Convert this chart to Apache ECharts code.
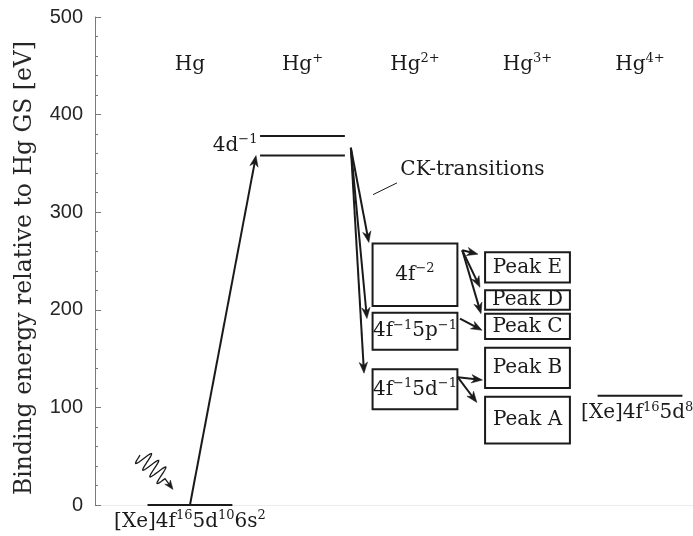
<!DOCTYPE html>
<html>
<head>
<meta charset="utf-8">
<script src="https://cdn.jsdelivr.net/npm/echarts@6/dist/echarts.min.js"></script>
<style>
  html, body { margin: 0; padding: 0; background: #fff; }
  #chart { width: 693px; height: 536px; }
</style>
</head>
<body>
<div id="chart"></div>
<script>
// Charge states along the horizontal axis (column index 0..4); ^{...} marks a superscript
const ionStages = ['Hg', 'Hg^{+}', 'Hg^{2+}', 'Hg^{3+}', 'Hg^{4+}'];
const stageLabelEnergy = 451;

// Energy axis ticks [eV]
const energyTicks = [0, 100, 200, 300, 400, 500];

// Single levels: [column, energy]
const levels = [
  [0, 0],
  [1, 378],
  [1, 358],
  [4, 112]
];

// Level captions: [column, energy, text, alignment]
const levelCaptions = [
  [0, -17, '[Xe]4f^{16}5d^{10}6s^{2}', 'center'],
  [0.6, 368, '4d^{-1}', 'right'],
  [3.975, 94, '[Xe]4f^{16}5d^{8}', 'center']
];

// Hg2+ two-hole states: [column, lower energy, upper energy, label]
const doubleHoleStates = [
  [2, 204, 268, '4f^{-2}'],
  [2, 159, 197, '4f^{-1}5p^{-1}'],
  [2, 98, 139, '4f^{-1}5d^{-1}']
];

// Hg3+ final-state peaks: [column, lower energy, upper energy, label]
const finalPeaks = [
  [3, 228, 259, 'Peak E'],
  [3, 200, 220, 'Peak D'],
  [3, 170, 196, 'Peak C'],
  [3, 120, 161, 'Peak B'],
  [3, 63, 111, 'Peak A']
];

// Transitions: [from column, from energy, to column, to energy]
const photoionisation = [
  [0, 0, 0.587, 358]
];
const ckTransitions = [
  [1.43, 366, 1.59, 269],
  [1.43, 366, 1.573, 191],
  [1.43, 366, 1.547, 135]
];
const augerDecays = [
  [2.42, 261, 2.56, 257],
  [2.42, 261, 2.578, 223],
  [2.42, 261, 2.587, 196],
  [2.40, 191, 2.596, 179],
  [2.38, 131, 2.60, 128],
  [2.38, 131, 2.55, 105]
];

// Callout for the CK arrows: [text column, text energy, line from col, energy, line to col, energy]
const ckCallout = [[1.87, 343, 1.627, 318, 1.84, 330]];
const ckCalloutText = 'CK-transitions';

// Incoming photon: [start col, energy, wave end col, energy, tip col, energy]
const photon = [[-0.444, 51, -0.222, 27, -0.151, 16]];

const HALF_WIDTH = 0.377;
const INK = '#1a1a1a';
const SERIF = '"DejaVu Serif", "Liberation Serif", serif';
const TEXT_SIZE = 20;
const SUP_SIZE = 13;

// ---- text with superscripts, laid out as separate runs ----
const measureCtx = document.createElement('canvas').getContext('2d');
function runWidth(t, size) {
  measureCtx.font = size + 'px ' + SERIF;
  return measureCtx.measureText(t).width;
}
function parseScript(str) {
  const out = [];
  const re = /\^\{([^}]*)\}/g;
  let last = 0, m;
  while ((m = re.exec(str))) {
    if (m.index > last) out.push({ t: str.slice(last, m.index), sup: false });
    out.push({ t: m[1].replace(/-/g, '\u2212'), sup: true });
    last = re.lastIndex;
  }
  if (last < str.length) out.push({ t: str.slice(last), sup: false });
  return out;
}
function scriptText(str, x, y, align) {
  const segs = parseScript(str).map(s => {
    const size = s.sup ? SUP_SIZE : TEXT_SIZE;
    return Object.assign(s, { size: size, w: runWidth(s.t, size) });
  });
  const total = segs.reduce((a, s) => a + s.w, 0);
  let cx = align === 'center' ? x - total / 2 : align === 'right' ? x - total : x;
  const children = [];
  segs.forEach(s => {
    children.push({
      type: 'text',
      style: {
        text: s.t, x: cx, y: s.sup ? y - 6 : y,
        align: 'left', verticalAlign: 'middle',
        fontFamily: SERIF, fontSize: s.size, fill: INK
      }
    });
    cx += s.w;
  });
  return { type: 'group', children: children };
}

function arrowHead(tip, ux, uy, len, wid) {
  const nx = -uy, ny = ux;
  const bx = tip[0] - ux * len, by = tip[1] - uy * len;
  const notch = [tip[0] - ux * len * 0.7, tip[1] - uy * len * 0.7];
  return {
    type: 'polygon',
    shape: { points: [tip, [bx + nx * wid, by + ny * wid], notch, [bx - nx * wid, by - ny * wid]] },
    style: { fill: INK, stroke: INK, lineWidth: 0.5 }
  };
}

function renderArrow(params, api) {
  const a = api.coord([api.value(0), api.value(1)]);
  const b = api.coord([api.value(2), api.value(3)]);
  const dx = b[0] - a[0], dy = b[1] - a[1];
  const len = Math.hypot(dx, dy);
  const ux = dx / len, uy = dy / len;
  const headLen = 11;
  return {
    type: 'group',
    children: [
      {
        type: 'line',
        shape: { x1: a[0], y1: a[1], x2: b[0] - ux * headLen * 0.6, y2: b[1] - uy * headLen * 0.6 },
        style: { stroke: INK, lineWidth: 2 }
      },
      arrowHead(b, ux, uy, headLen, 4.2)
    ]
  };
}

function renderLevel(params, api) {
  const c = api.value(0), e = api.value(1);
  const p0 = api.coord([c - HALF_WIDTH, e]);
  const p1 = api.coord([c + HALF_WIDTH, e]);
  return {
    type: 'line',
    shape: { x1: p0[0], y1: p0[1], x2: p1[0], y2: p1[1] },
    style: { stroke: INK, lineWidth: 2 }
  };
}

function makeBoxRenderer(rows) {
  return function (params, api) {
    const c = api.value(0), lo = api.value(1), hi = api.value(2);
    const p0 = api.coord([c - HALF_WIDTH, hi]);
    const p1 = api.coord([c + HALF_WIDTH, lo]);
    return {
      type: 'group',
      children: [
        {
          type: 'rect',
          shape: { x: p0[0], y: p0[1], width: p1[0] - p0[0], height: p1[1] - p0[1] },
          style: { fill: '#fff', stroke: INK, lineWidth: 2 }
        },
        scriptText(rows[params.dataIndex][3], (p0[0] + p1[0]) / 2, (p0[1] + p1[1]) / 2, 'center')
      ]
    };
  };
}

function renderCaption(params, api) {
  const row = levelCaptions[params.dataIndex];
  const p = api.coord([api.value(0), api.value(1)]);
  return scriptText(row[2], p[0], p[1], row[3]);
}

function renderStage(params, api) {
  const p = api.coord([api.value(0), api.value(1)]);
  return scriptText(ionStages[params.dataIndex], p[0], p[1], 'center');
}

function renderCallout(params, api) {
  const t = api.coord([api.value(0), api.value(1)]);
  const a = api.coord([api.value(2), api.value(3)]);
  const b = api.coord([api.value(4), api.value(5)]);
  return {
    type: 'group',
    children: [
      { type: 'line', shape: { x1: a[0], y1: a[1], x2: b[0], y2: b[1] }, style: { stroke: INK, lineWidth: 1 } },
      scriptText(ckCalloutText, t[0], t[1], 'left')
    ]
  };
}

function renderPhoton(params, api) {
  const s = api.coord([api.value(0), api.value(1)]);
  const w = api.coord([api.value(2), api.value(3)]);
  const tip = api.coord([api.value(4), api.value(5)]);
  const dx = w[0] - s[0], dy = w[1] - s[1];
  const len = Math.hypot(dx, dy);
  const ux = dx / len, uy = dy / len, nx = -uy, ny = ux;
  const pts = [];
  const n = 80, periods = 3.5, amp = 9;
  for (let i = 0; i <= n; i++) {
    const t = i / n;
    const off = amp * Math.sin(2 * Math.PI * periods * t);
    pts.push([s[0] + dx * t + nx * off, s[1] + dy * t + ny * off]);
  }
  const tx = tip[0] - w[0], ty = tip[1] - w[1];
  const tl = Math.hypot(tx, ty);
  const tux = tx / tl, tuy = ty / tl;
  pts.push([tip[0] - tux * 5, tip[1] - tuy * 5]);
  return {
    type: 'group',
    children: [
      { type: 'polyline', shape: { points: pts }, style: { stroke: INK, lineWidth: 1.3, fill: null } },
      arrowHead(tip, tux, tuy, 9, 3.5)
    ]
  };
}

const chart = echarts.init(document.getElementById('chart'), null, { renderer: 'canvas' });

chart.setOption({
  animation: false,
  backgroundColor: '#fff',
  grid: { left: 95, right: 0, top: 17, bottom: 31, containLabel: false },
  xAxis: {
    type: 'value', min: -0.844, max: 4.471,
    axisLine: { show: true, onZero: false, lineStyle: { color: '#ececec', width: 1 } },
    axisTick: { show: false }, axisLabel: { show: false }, splitLine: { show: false }
  },
  yAxis: {
    type: 'value', min: energyTicks[0], max: energyTicks[energyTicks.length - 1], interval: 100,
    name: 'Binding energy relative to Hg GS [eV]',
    nameLocation: 'middle', nameGap: 58,
    nameTextStyle: { fontFamily: SERIF, fontSize: 23.5, color: '#262626', padding: [0, 14, 0, 0] },
    axisLine: { show: true, onZero: false, lineStyle: { color: '#7a7a7a', width: 1 } },
    axisTick: { show: true, inside: true, length: 6, lineStyle: { color: '#7a7a7a' } },
    minorTick: { show: true, splitNumber: 5, length: 3, lineStyle: { color: '#7a7a7a' } },
    axisLabel: { fontFamily: '"Liberation Sans", Arial, sans-serif', fontSize: 20, color: '#262626', margin: 12 },
    splitLine: { show: false }
  },
  series: [
    { type: 'custom', renderItem: renderStage, data: ionStages.map((s, i) => [i, stageLabelEnergy]), silent: true },
    { type: 'custom', renderItem: renderLevel, data: levels, silent: true },
    { type: 'custom', renderItem: renderCaption, data: levelCaptions.map(r => [r[0], r[1]]), silent: true },
    { type: 'custom', renderItem: makeBoxRenderer(doubleHoleStates), data: doubleHoleStates.map(r => [r[0], r[1], r[2]]), silent: true },
    { type: 'custom', renderItem: makeBoxRenderer(finalPeaks), data: finalPeaks.map(r => [r[0], r[1], r[2]]), silent: true },
    { type: 'custom', renderItem: renderArrow, data: photoionisation, silent: true, z: 5 },
    { type: 'custom', renderItem: renderArrow, data: ckTransitions, silent: true, z: 5 },
    { type: 'custom', renderItem: renderArrow, data: augerDecays, silent: true, z: 5 },
    { type: 'custom', renderItem: renderCallout, data: ckCallout, silent: true },
    { type: 'custom', renderItem: renderPhoton, data: photon, silent: true }
  ]
});
</script>
</body>
</html>
